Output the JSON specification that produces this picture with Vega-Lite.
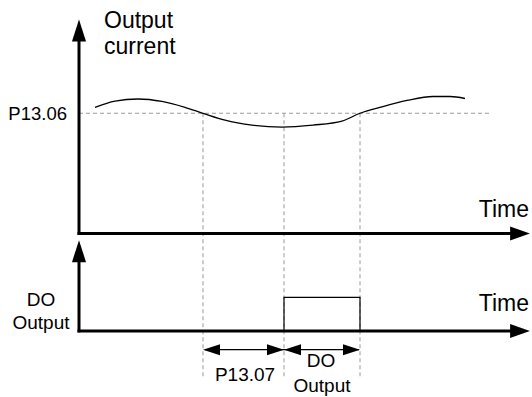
{
  "$schema": "https://vega.github.io/schema/vega-lite/v6.json",
  "width": 532,
  "height": 397,
  "autosize": {"type": "fit", "contains": "padding"},
  "padding": 0,
  "background": "white",
  "config": {"view": {"stroke": null}},
  "datasets": {
    "axes": [
      {"x": 79, "y": 38, "x2": 79, "y2": 238.5},
      {"x": 77.5, "y": 237, "x2": 512, "y2": 237},
      {"x": 79, "y": 262, "x2": 79, "y2": 337.5},
      {"x": 77.5, "y": 336, "x2": 512, "y2": 336}
    ],
    "guides": [
      {"x": 79, "y": 115, "x2": 489, "y2": 115},
      {"x": 203, "y": 115, "x2": 203, "y2": 382},
      {"x": 284, "y": 115, "x2": 284, "y2": 385},
      {"x": 360, "y": 115, "x2": 360, "y2": 383}
    ],
    "dimension": [
      {"x": 205, "y": 355, "x2": 359, "y2": 355}
    ],
    "heads": [
      {"x": 79, "y": 31, "kind": "up"},
      {"x": 79, "y": 255, "kind": "up"},
      {"x": 520, "y": 237, "kind": "right"},
      {"x": 520, "y": 336, "kind": "right"},
      {"x": 211.5, "y": 355, "kind": "dimleft"},
      {"x": 275.5, "y": 355, "kind": "dimright"},
      {"x": 292.5, "y": 355, "kind": "dimleft"},
      {"x": 351.5, "y": 355, "kind": "dimright"}
    ],
    "current": [
      {"t": 95, "v": 109},
      {"t": 115, "v": 102.7},
      {"t": 138, "v": 100.5},
      {"t": 162, "v": 103},
      {"t": 185, "v": 109},
      {"t": 203, "v": 115},
      {"t": 225, "v": 122},
      {"t": 252, "v": 127},
      {"t": 282, "v": 129},
      {"t": 313, "v": 127},
      {"t": 342, "v": 123},
      {"t": 360, "v": 115},
      {"t": 380, "v": 109},
      {"t": 407, "v": 102},
      {"t": 433, "v": 98},
      {"t": 450, "v": 98},
      {"t": 465, "v": 100}
    ],
    "pulse": [
      {"t": 284, "v": 336, "o": 1},
      {"t": 284, "v": 302, "o": 2},
      {"t": 360, "v": 302, "o": 3},
      {"t": 360, "v": 336, "o": 4}
    ],
    "bigLabels": [
      {"text": "Output", "x": 104, "y": 28, "pos": "left"},
      {"text": "current", "x": 104, "y": 55, "pos": "left"},
      {"text": "Time", "x": 529, "y": 220, "pos": "right"},
      {"text": "Time", "x": 529, "y": 316, "pos": "right"}
    ],
    "smallLabels": [
      {"text": "P13.06", "x": 67, "y": 122, "pos": "right"},
      {"text": "DO", "x": 41, "y": 311, "pos": "center"},
      {"text": "Output", "x": 41, "y": 334, "pos": "center"},
      {"text": "P13.07", "x": 245, "y": 387, "pos": "center"},
      {"text": "DO", "x": 321, "y": 373, "pos": "center"},
      {"text": "Output", "x": 322, "y": 398, "pos": "center"}
    ]
  },
  "layer": [
    {
      "data": {"name": "guides"},
      "mark": {"type": "rule", "color": "#9a9a9a", "strokeWidth": 1, "strokeDash": [4, 3]},
      "encoding": {
        "x": {"field": "x", "type": "quantitative", "axis": null, "scale": {"domain": [0, 532], "nice": false, "zero": false}},
        "y": {"field": "y", "type": "quantitative", "axis": null, "scale": {"domain": [0, 397], "nice": false, "zero": false, "reverse": true}},
        "x2": {"field": "x2"},
        "y2": {"field": "y2"}
      }
    },
    {
      "data": {"name": "current"},
      "mark": {"type": "line", "color": "black", "strokeWidth": 1.3, "interpolate": "monotone"},
      "encoding": {
        "x": {"field": "t", "type": "quantitative", "axis": null},
        "y": {"field": "v", "type": "quantitative", "axis": null}
      }
    },
    {
      "data": {"name": "pulse"},
      "mark": {"type": "line", "color": "black", "strokeWidth": 1.2},
      "encoding": {
        "x": {"field": "t", "type": "quantitative", "axis": null},
        "y": {"field": "v", "type": "quantitative", "axis": null},
        "order": {"field": "o"}
      }
    },
    {
      "data": {"name": "dimension"},
      "mark": {"type": "rule", "color": "black", "strokeWidth": 1.2},
      "encoding": {
        "x": {"field": "x", "type": "quantitative", "axis": null},
        "y": {"field": "y", "type": "quantitative", "axis": null},
        "x2": {"field": "x2"},
        "y2": {"field": "y2"}
      }
    },
    {
      "data": {"name": "axes"},
      "mark": {"type": "rule", "color": "black", "strokeWidth": 3},
      "encoding": {
        "x": {"field": "x", "type": "quantitative", "axis": null},
        "y": {"field": "y", "type": "quantitative", "axis": null},
        "x2": {"field": "x2"},
        "y2": {"field": "y2"}
      }
    },
    {
      "data": {"name": "heads"},
      "mark": {"type": "point", "filled": true, "color": "black", "opacity": 1, "size": 484, "strokeWidth": 0},
      "encoding": {
        "x": {"field": "x", "type": "quantitative", "axis": null},
        "y": {"field": "y", "type": "quantitative", "axis": null},
        "shape": {
          "field": "kind",
          "type": "nominal",
          "legend": null,
          "scale": {
            "domain": ["up", "right", "dimleft", "dimright"],
            "range": [
              "M0,-1L0.64,1L-0.64,1Z",
              "M0.9,0L-0.9,0.64L-0.9,-0.64Z",
              "M-0.77,0L0.77,0.5L0.77,-0.5Z",
              "M0.77,0L-0.77,0.5L-0.77,-0.5Z"
            ]
          }
        }
      }
    },
    {
      "data": {"name": "bigLabels"},
      "transform": [{"filter": "datum.pos === 'left'"}],
      "mark": {"type": "text", "font": "Liberation Sans", "fontSize": 23, "align": "left", "baseline": "alphabetic", "color": "black"},
      "encoding": {
        "x": {"field": "x", "type": "quantitative", "axis": null},
        "y": {"field": "y", "type": "quantitative", "axis": null},
        "text": {"field": "text"}
      }
    },
    {
      "data": {"name": "bigLabels"},
      "transform": [{"filter": "datum.pos === 'right'"}],
      "mark": {"type": "text", "font": "Liberation Sans", "fontSize": 23, "align": "right", "baseline": "alphabetic", "color": "black"},
      "encoding": {
        "x": {"field": "x", "type": "quantitative", "axis": null},
        "y": {"field": "y", "type": "quantitative", "axis": null},
        "text": {"field": "text"}
      }
    },
    {
      "data": {"name": "smallLabels"},
      "transform": [{"filter": "datum.pos === 'right'"}],
      "mark": {"type": "text", "font": "Liberation Sans", "fontSize": 18.5, "align": "right", "baseline": "alphabetic", "color": "black"},
      "encoding": {
        "x": {"field": "x", "type": "quantitative", "axis": null},
        "y": {"field": "y", "type": "quantitative", "axis": null},
        "text": {"field": "text"}
      }
    },
    {
      "data": {"name": "smallLabels"},
      "transform": [{"filter": "datum.pos === 'center'"}],
      "mark": {"type": "text", "font": "Liberation Sans", "fontSize": 19, "align": "center", "baseline": "alphabetic", "color": "black"},
      "encoding": {
        "x": {"field": "x", "type": "quantitative", "axis": null},
        "y": {"field": "y", "type": "quantitative", "axis": null},
        "text": {"field": "text"}
      }
    }
  ]
}
